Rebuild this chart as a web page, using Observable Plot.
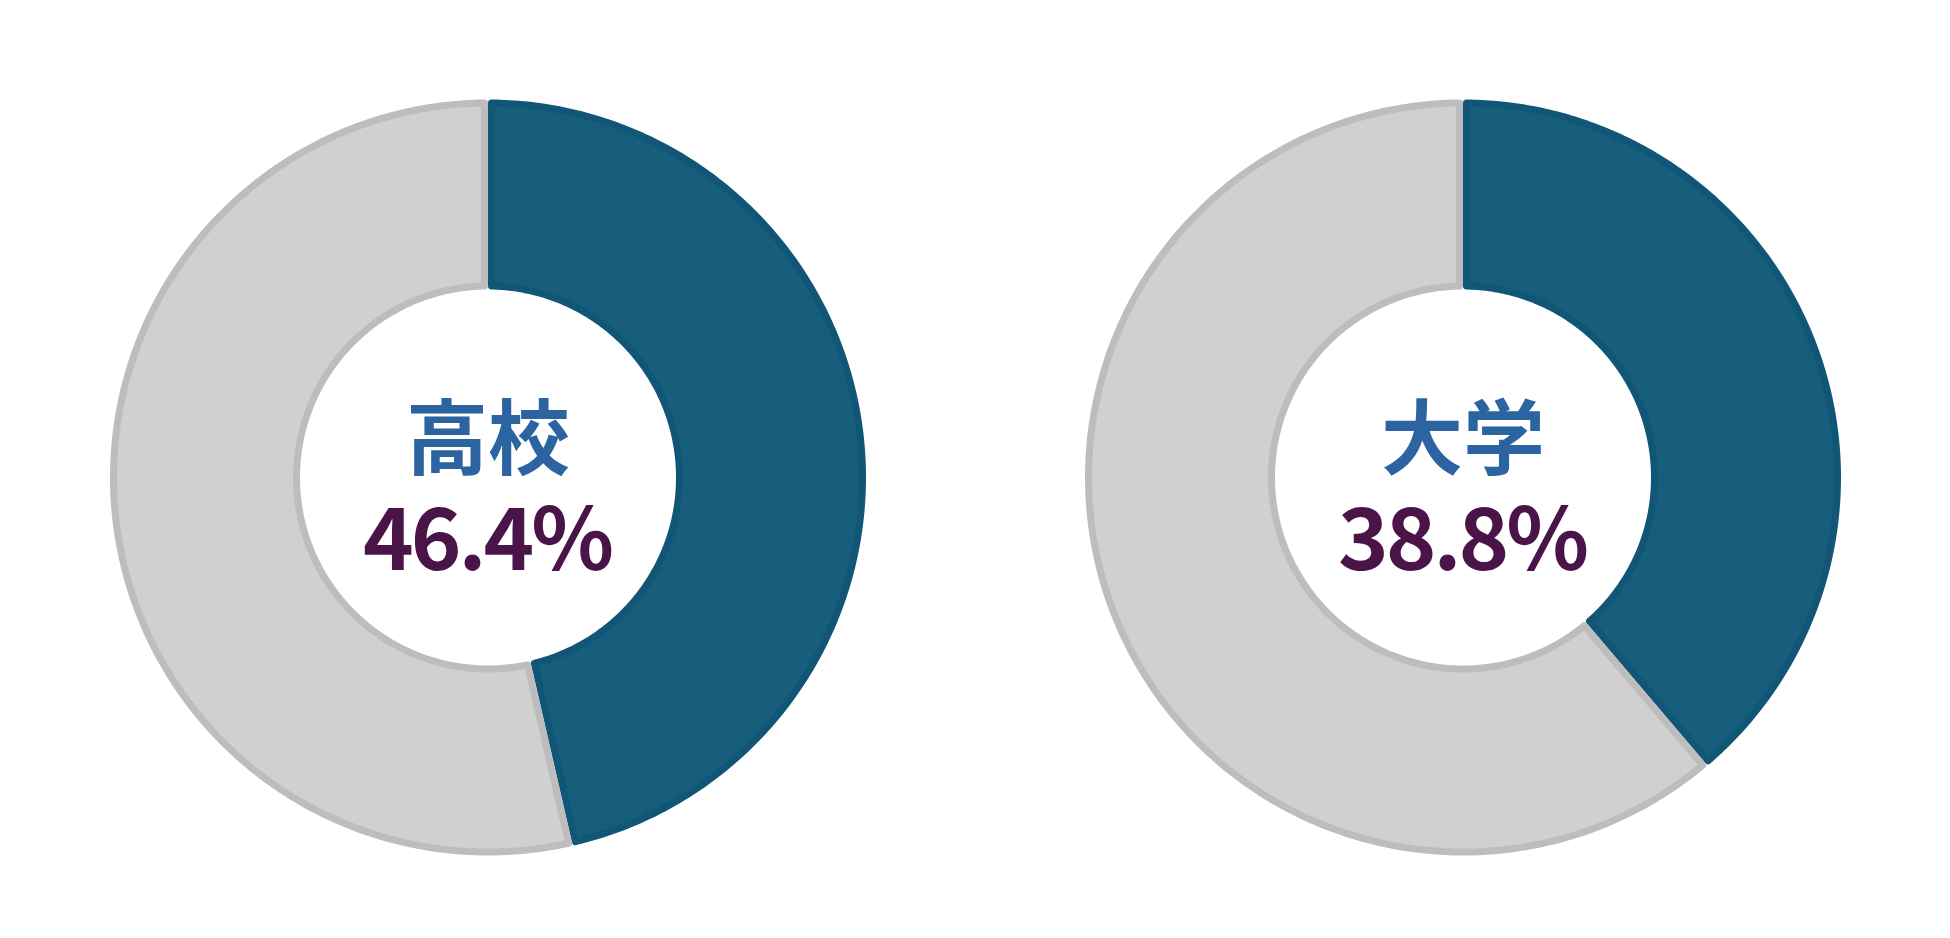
<!DOCTYPE html>
<html>
<head>
<meta charset="utf-8">
<script src="https://cdn.jsdelivr.net/npm/d3@7"></script>
<script src="https://cdn.jsdelivr.net/npm/@observablehq/plot@0.6"></script>
<style>
  html, body { margin: 0; padding: 0; background: #fff; }
  #row { display: flex; width: 1950px; height: 938px; }
  #row > div { width: 975px; height: 938px; }
  text { font-family: "Noto Sans CJK JP", sans-serif; }
</style>
</head>
<body>
<div id="row"></div>
<script>
// ---- data ----
const categories = ["高校", "大学"];
const shares = [46.4, 38.8];          // percent (highlighted slice)
const valueLabels = ["46.4%", "38.8%"];

// ---- styling ----
const W = 975, H = 938;
const CX = 487.5, CY = 477;
const R_OUT = 378, R_IN = 188;
const SW = 7;                 // stroke width (drawn inside the slice)
const colors = {
  hi: {fill: "#165e7c", stroke: "#115676"},
  rest: {fill: "#d0d0d0", stroke: "#bdbdbd"}
};

// arc polygon (pixels relative to centre) from value fractions, inset by half stroke
function slicePolygon(f0, f1) {
  const d = SW / 2;
  const ro = R_OUT - d, ri = R_IN + d;
  const a0 = f0 * 2 * Math.PI, a1 = f1 * 2 * Math.PI;
  const pt = (a, r) => [Math.sin(a) * r, -Math.cos(a) * r];
  const ring = [];
  const n = 240;
  const oa0 = a0 + Math.asin(d / ro), oa1 = a1 - Math.asin(d / ro);
  for (let i = 0; i <= n; i++) ring.push(pt(oa0 + (oa1 - oa0) * i / n, ro));
  const ia0 = a0 + Math.asin(d / ri), ia1 = a1 - Math.asin(d / ri);
  for (let i = n; i >= 0; i--) ring.push(pt(ia0 + (ia1 - ia0) * i / n, ri));
  ring.push(ring[0]);
  return {type: "Feature", properties: {}, geometry: {type: "Polygon", coordinates: [ring]}};
}

const row = document.getElementById("row");
categories.forEach((cat, i) => {
  const f = shares[i] / 100;
  const slices = [
    {...slicePolygon(0, f), properties: {kind: "hi"}},
    {...slicePolygon(f, 1), properties: {kind: "rest"}}
  ];
  const projection = d3.geoIdentity().translate([CX, CY]);
  const chart = Plot.plot({
    width: W, height: H,
    margin: 0,
    projection,
    marks: [
      Plot.geo(slices, {
        fill: d => colors[d.properties.kind].fill,
        stroke: d => colors[d.properties.kind].stroke,
        strokeWidth: SW,
        strokeLinejoin: "round"
      }),
      Plot.text([cat], {
        frameAnchor: "middle", dx: CX - W / 2, dy: CY - H / 2 - 36,
        text: d => d, fontSize: 82, fontWeight: "bold", fill: "#2b64a0"
      }),
      Plot.text([valueLabels[i]], {
        frameAnchor: "middle", dx: CX - W / 2 - 1, dy: CY - H / 2 + 65,
        text: d => d, fontSize: 86, fontWeight: "bold", fill: "#4b1449"
      })
    ]
  });
  chart.querySelectorAll("g[aria-label='text']").forEach((g, k) => {
    if (k === 1) g.querySelectorAll("text").forEach(t => t.style.letterSpacing = "-3px");
  });
  const holder = document.createElement("div");
  holder.appendChild(chart);
  row.appendChild(holder);
});
</script>
</body>
</html>
